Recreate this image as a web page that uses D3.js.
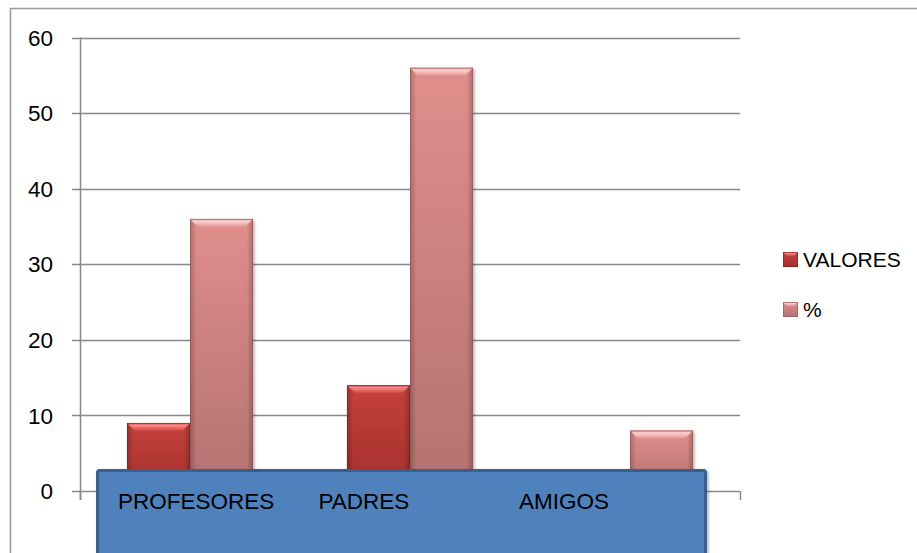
<!DOCTYPE html>
<html>
<head>
<meta charset="utf-8">
<script src="https://cdn.jsdelivr.net/npm/d3@7"></script>
<style>
  html, body { margin: 0; padding: 0; background: #fff; }
  svg { display: block; }
  text { font-family: "Liberation Sans", Arial, sans-serif; fill: #000; }
</style>
</head>
<body>
<svg id="chart" width="917" height="553"></svg>
<script>
// ---- data ----
const categories = ["PROFESORES", "PADRES", "AMIGOS"];
const seriesNames = ["VALORES", "%"];
const valores = [9, 14, 0];
const porcentaje = [36, 56, 8];
const yTicks = [0, 10, 20, 30, 40, 50, 60];

const seriesValues = [valores, porcentaje];

const svg = d3.select("#chart");
const plot = { left: 80, right: 740, top: 37.5, bottom: 491 };

const y = d3.scaleLinear().domain([0, 60]).range([plot.bottom, plot.top]);
const x0 = d3.scaleBand().domain(categories).range([plot.left, plot.right])
  .paddingInner(0.427).paddingOuter(0.2135);
const x1 = d3.scaleBand().domain(seriesNames).range([0, x0.bandwidth()]).padding(0);

// ---- defs ----
const defs = svg.append("defs");
const palettes = {
  "VALORES": { top: "#c4413d", bottom: "#a42f2b", bevelTop: "#fa8a88", bevelBot: "#cf4642", edge: "#7e2220" },
  "%": { top: "#e08e8c", bottom: "#b37270", bevelTop: "#fcd2d0", bevelBot: "#e39593", edge: "#8a5856" }
};
seriesNames.forEach((s, i) => {
  const p = palettes[s];
  const g = defs.append("linearGradient").attr("id", "grad" + i)
    .attr("x1", 0).attr("y1", 0).attr("x2", 0).attr("y2", 1);
  g.append("stop").attr("offset", "0%").attr("stop-color", p.top);
  g.append("stop").attr("offset", "100%").attr("stop-color", p.bottom);
  const b = defs.append("linearGradient").attr("id", "bevel" + i)
    .attr("x1", 0).attr("y1", 0).attr("x2", 0).attr("y2", 1);
  b.append("stop").attr("offset", "0%").attr("stop-color", p.bevelBot);
  b.append("stop").attr("offset", "30%").attr("stop-color", p.bevelTop);
  b.append("stop").attr("offset", "100%").attr("stop-color", p.bevelBot);
});
const side = defs.append("linearGradient").attr("id", "sideShade")
  .attr("x1", 0).attr("y1", 0).attr("x2", 1).attr("y2", 0);
side.append("stop").attr("offset", "0%").attr("stop-color", "#000").attr("stop-opacity", 0.22);
side.append("stop").attr("offset", "10%").attr("stop-color", "#000").attr("stop-opacity", 0.0);
side.append("stop").attr("offset", "90%").attr("stop-color", "#000").attr("stop-opacity", 0.0);
side.append("stop").attr("offset", "100%").attr("stop-color", "#000").attr("stop-opacity", 0.22);
const shadow = defs.append("filter").attr("id", "shadow")
  .attr("x", "-20%").attr("y", "-20%").attr("width", "140%").attr("height", "140%");
shadow.append("feDropShadow").attr("dx", 1.5).attr("dy", 1.5).attr("stdDeviation", 1.5)
  .attr("flood-color", "#000").attr("flood-opacity", 0.3);

// ---- outer border ----
svg.append("rect").attr("x", 10.5).attr("y", 8.5).attr("width", 2000).attr("height", 2000)
  .attr("fill", "none").attr("stroke", "#9a9a9a").attr("stroke-width", 1.5);

// ---- gridlines & axes ----
const gridColor = "#888";
svg.append("g").selectAll("line").data(yTicks).join("line")
  .attr("x1", plot.left - 8).attr("x2", plot.right)
  .attr("y1", d => Math.round(y(d)) + 0.5).attr("y2", d => Math.round(y(d)) + 0.5)
  .attr("stroke", gridColor).attr("stroke-width", 1.5);

svg.append("line").attr("x1", plot.left + 0.5).attr("x2", plot.left + 0.5)
  .attr("y1", plot.top).attr("y2", plot.bottom + 9)
  .attr("stroke", gridColor).attr("stroke-width", 1.5);
const tickXs = [plot.left, ...categories.map((c, i) => plot.left + x0.step() * (i + 1))];
svg.append("g").selectAll("line").data(tickXs).join("line")
  .attr("x1", d => d + 0.5).attr("x2", d => d + 0.5)
  .attr("y1", plot.bottom).attr("y2", plot.bottom + 9)
  .attr("stroke", gridColor).attr("stroke-width", 1.5);

svg.append("g").selectAll("text").data(yTicks).join("text")
  .attr("x", 53).attr("y", d => y(d)).attr("dy", "0.36em")
  .attr("text-anchor", "end").attr("font-size", 22.5)
  .text(d => d);

// ---- bars ----
const bevel = 8;
const barsG = svg.append("g");
categories.forEach((c, ci) => {
  seriesNames.forEach((s, si) => {
    const v = seriesValues[si][ci];
    if (v <= 0) return;
    const bx = x0(c) + x1(s);
    const bw = x1.bandwidth();
    const by = y(v);
    const bh = y(0) - by;
    const g = barsG.append("g").attr("filter", "url(#shadow)");
    g.append("rect").attr("x", bx).attr("y", by).attr("width", bw).attr("height", bh)
      .attr("fill", `url(#grad${si})`);
    g.append("rect").attr("x", bx).attr("y", by).attr("width", bw).attr("height", bh)
      .attr("fill", "url(#sideShade)");
    g.append("polygon")
      .attr("points", [[bx, by], [bx + bw, by], [bx + bw - bevel, by + bevel], [bx + bevel, by + bevel]].map(p => p.join(",")).join(" "))
      .attr("fill", `url(#bevel${si})`);
    g.append("rect").attr("x", bx + 0.5).attr("y", by + 0.5).attr("width", bw - 1).attr("height", bh - 1)
      .attr("fill", "none").attr("stroke", palettes[s].edge).attr("stroke-opacity", 0.55).attr("stroke-width", 1);
  });
});

// ---- overlay box with category labels ----
svg.append("rect").attr("x", 97.5).attr("y", 470.5).attr("width", 608).attr("height", 200)
  .attr("rx", 2).attr("fill", "#4f81bd").attr("stroke", "#3a5f8c").attr("stroke-width", 3)
  .attr("filter", "url(#shadow)");
const labelX = d3.scaleLinear().domain([0, categories.length - 1]).range([118, 519]);
svg.append("g").selectAll("text").data(categories).join("text")
  .attr("x", (d, i) => labelX(i)).attr("y", 509)
  .attr("font-size", 22.5)
  .text(d => d);

// ---- legend ----
const legend = svg.append("g");
const legendY = d3.scalePoint().domain(seriesNames).range([252, 302]);
seriesNames.forEach((s, si) => {
  const ly = legendY(s);
  const lx = 783, sz = 15, b = 4;
  const g = legend.append("g");
  g.append("rect").attr("x", lx).attr("y", ly).attr("width", sz).attr("height", sz)
    .attr("fill", `url(#grad${si})`);
  g.append("polygon")
    .attr("points", [[lx, ly], [lx + sz, ly], [lx + sz - b, ly + b], [lx + b, ly + b]].map(p => p.join(",")).join(" "))
    .attr("fill", `url(#bevel${si})`);
  g.append("rect").attr("x", lx + 0.5).attr("y", ly + 0.5).attr("width", sz - 1).attr("height", sz - 1)
    .attr("fill", "none").attr("stroke", palettes[s].edge).attr("stroke-opacity", 0.6);
  g.append("text").attr("x", 803).attr("y", ly + 15).attr("font-size", 21).text(s);
});
</script>
</body>
</html>
